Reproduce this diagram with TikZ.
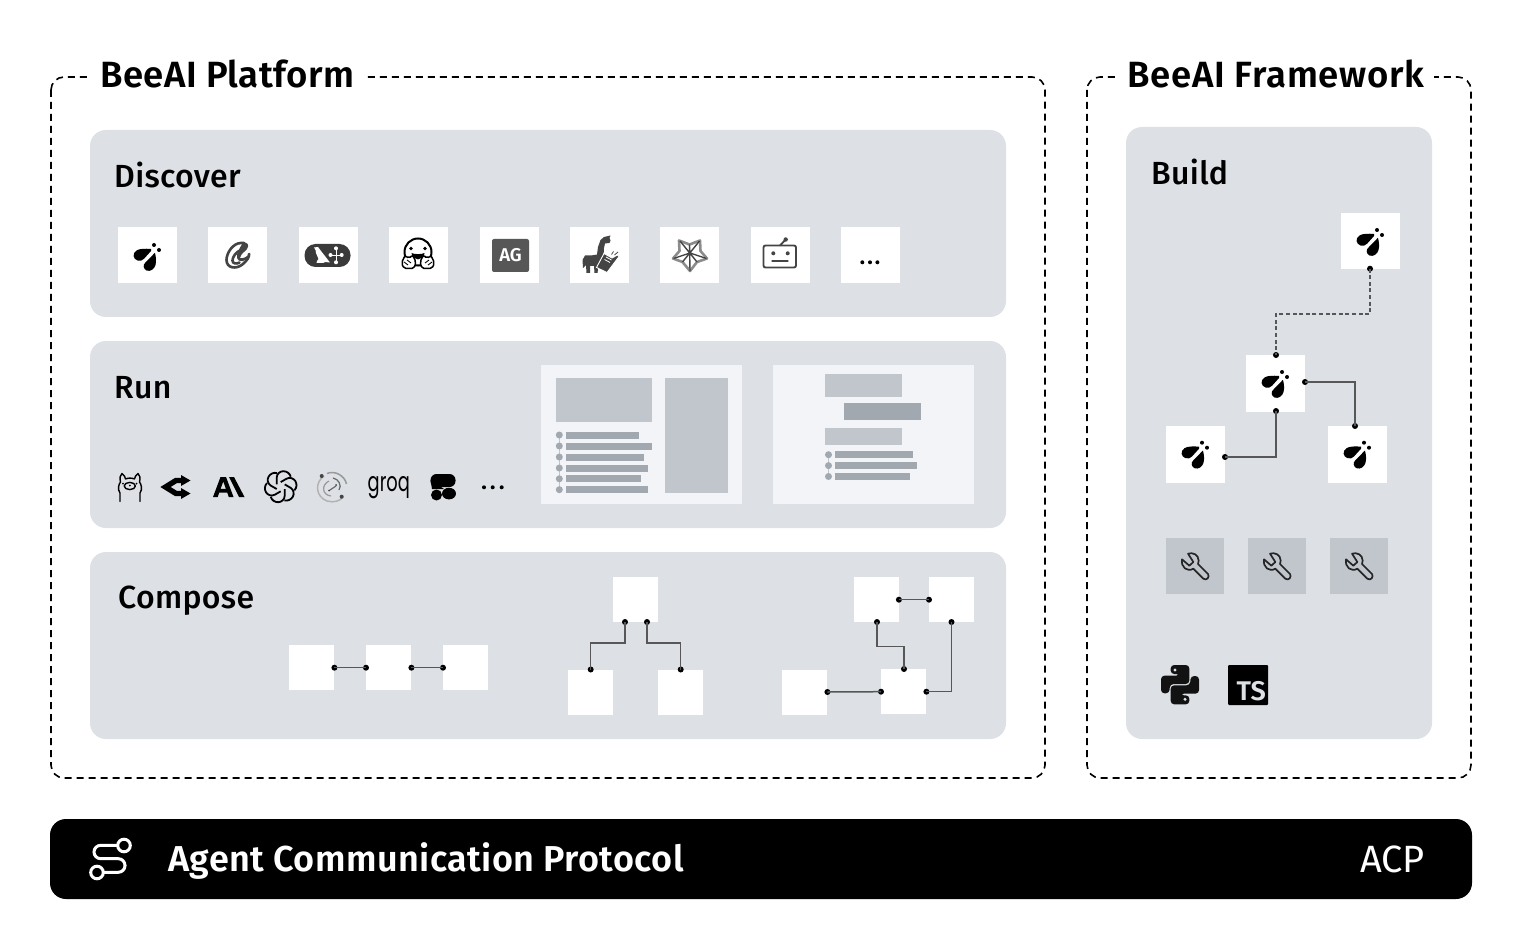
\documentclass[tikz,border=0pt]{standalone}
\usepackage{fontspec}
\setmainfont{Fira Sans}[UprightFont=* Medium,BoldFont=* SemiBold]
\newfontfamily\regf{Fira Sans}
\newfontfamily\logof{Poppins}
\definecolor{panel}{HTML}{DDE0E5}
\definecolor{mid}{HTML}{C1C6CD}
\definecolor{dark}{HTML}{A2A8AF}
\definecolor{pale}{HTML}{F2F4F8}
\definecolor{icon}{HTML}{444444}
\tikzset{
  frame/.style={draw=black,line width=1.6pt,dash pattern=on 7pt off 5pt,rounded corners=13pt},
  panelbox/.style={fill=panel,rounded corners=16pt},
  title/.style={font=\fontsize{36.5}{40}\selectfont\bfseries,anchor=base west,fill=white,inner xsep=10pt,inner ysep=2pt},
  label/.style={font=\fontsize{32}{36}\selectfont\addfontfeature{LetterSpace=1},anchor=base west,inner sep=0pt},
  tile/.style={fill=white,inner sep=0pt,minimum width=59pt,minimum height=56pt,anchor=north west},
  sq/.style={fill=white,inner sep=0pt,minimum width=45pt,minimum height=45pt,anchor=north west},
  tool/.style={fill=mid,inner sep=0pt,minimum width=58pt,minimum height=56pt,anchor=north west},
  dotn/.style={circle,fill=black,inner sep=0pt,minimum size=6pt},
  conn/.style={draw=icon!90,line width=1.5pt},
  dconn/.style={draw=icon!90,line width=1.5pt,dash pattern=on 4pt off 2.6pt},
}
\newcommand{\flyicon}[2]{\begin{scope}[shift={(#1,#2)}]
  \fill[black] (3.5,-7) .. controls (-2,-7.5) and (-8,-7.5) .. (-11,-5.5) .. controls (-15.5,-2.5) and (-14.5,3) .. (-10,4.5) .. controls (-7.5,5.3) and (-5,4.5) .. (-3.5,2.8) -- (3.5,-5) -- cycle;
  \fill[black] (7,-2.8) -- (-2.3,6.8) .. controls (-5,9) and (-4,13) .. (-1,14.5) .. controls (3,16) and (7,13) .. (8,9) .. controls (9,5) and (8.5,1) .. (7.5,-3) -- cycle;
  \fill[black] (6.5,-11) circle[radius=2] (11.5,-6) circle[radius=2];
\end{scope}}
\newcommand{\bulletrows}[3]{%
  \foreach \yy/\xe in {#3}{
    \fill[dark] (#1,\yy) circle[radius=3.5];
    \fill[dark] (#2,\yy-3.5) rectangle (\xe,\yy+3.5);
  }}
\begin{document}
\begin{tikzpicture}[x=1pt,y=-1pt]
\useasboundingbox (0,0) rectangle (1522,949);
\fill[white] (0,0) rectangle (1522,949);
% frames
\draw[frame] (51,77) rectangle (1045,778);
\draw[frame] (1087,77) rectangle (1471,778);
\node[title] (tp) at (90,87.5) {\addfontfeature{LetterSpace=1.2}BeeAI Platform};
\node[title,inner xsep=9pt] (tf) at (1118,87.5) {\addfontfeature{LetterSpace=2.2}BeeAI Framework};
% panels
\fill[panelbox] (90,130) rectangle (1006,317);
\fill[panelbox] (90,341) rectangle (1006,528);
\fill[panelbox] (90,552) rectangle (1006,739);
\fill[panelbox] (1126,127) rectangle (1432,739);
\node[label] (ld) at (114,187.5) {Discover};
\node[label] (lr) at (114,398) {Run};
\node[label] (lc) at (118,608) {Compose};
\node[label] (lb) at (1151,184.5) {Build};
% discover tiles
\foreach \i/\x in {1/118,2/208.2,3/298.6,4/389,5/479.4,6/570,7/660.2,8/750.6,9/841}
  \node[tile] (dt\i) at (\x,227) {};
\flyicon{147.5}{256}
% crew
\begin{scope}[draw=icon,line width=2.6pt,line cap=round]
\draw (241,243) .. controls (233,243) and (226.5,253) .. (226.5,260) .. controls (226.5,268) and (236,270) .. (243,264) .. controls (247,260.5) and (249.5,257) .. (249,254);
\fill[icon] (243,243) .. controls (247,241.5) and (250,245) .. (247,249) .. controls (245,252) and (241,253) .. (240,258) .. controls (243,259) and (247,257) .. (250,253) -- (250,256) .. controls (246,262) and (238,263) .. (237,258) .. controls (236,254) and (240,247) .. cycle;
\draw (240,250.5) .. controls (236,252) and (232.5,257) .. (232.5,260.5) .. controls (232.5,263.5) and (236,264.5) .. (239.5,262.5);
\draw (241,243) -- (244,242.8);
\end{scope}
% langgraph
\fill[icon!85!black,rounded corners=11pt] (304.5,244) rectangle (350.5,267);
\fill[white] (314,247.5) -- (318,247) -- (321,251) -- (330,262.5) -- (325,262) -- (323,263) -- (316.5,263) -- (317,261) -- (318.5,259) -- (316,253) -- (315.5,250) -- cycle;
\fill[white] (336,248.3) circle[radius=2] (330.5,255) circle[radius=2] (341.7,255) circle[radius=2] (336,262.3) circle[radius=2];
\draw[white,line width=.8pt] (336,248.3) -- (336,262.3) (332,255) -- (340,255);
% hugging face
\draw[black,line width=2pt,fill=white] (418,252) circle[radius=13.5];
\fill[black] (411,248.5) circle[radius=1.8] (425,248.5) circle[radius=1.8];
\fill[black] (411.5,253) .. controls (414,254.5) and (422,254.5) .. (424.5,253) .. controls (424,261.5) and (412,261.5) .. (411.5,253) -- cycle;
\draw[black,line width=1.5pt,fill=white,rounded corners=2pt] (401.5,263) -- (405,255.5) -- (409,258.5) -- (412.5,255) -- (416,262) -- (414,268.5) -- (404,268.5) -- cycle;
\draw[black,line width=1.5pt,fill=white,rounded corners=2pt] (434.5,263) -- (431,255.5) -- (427,258.5) -- (423.5,255) -- (420,262) -- (422,268.5) -- (432,268.5) -- cycle;
\draw[black,line width=.9pt] (404,262) -- (408,265) (407,260) -- (411,263) (432,262) -- (428,265) (429,260) -- (425,263);
% AG
\fill[icon!90!white,rounded corners=2pt] (492,239) rectangle (529,272);
\node[font=\fontsize{18.5}{20}\selectfont\bfseries,text=white,inner sep=0pt] (ag) at (510.5,255) {AG};
% llama + book
\fill[icon] (610.5,235.5) -- (609.5,238) -- (610.5,240.5) -- (609.5,243) -- (605,243.5) -- (604,248) -- (603.5,256) -- (602,262) -- (598.5,265) -- (597.5,273) -- (594.5,273) -- (594,266) -- (590,266) -- (590,273) -- (586.5,273) -- (586,265) -- (583,268) -- (582.5,260) -- (585,255.5) -- (591,255.5) -- (597,254.5) -- (598,247) -- (600.5,240) -- (604,237) -- cycle;
\fill[icon,draw=white,line width=.9pt] (604,253.5) -- (612,258) -- (617.5,255) -- (619,256.5) -- (607,272.5) -- (596.5,267.5) -- cycle;
\draw[white,line width=.8pt] (606,257) -- (611.5,260) (604.5,259.5) -- (610,262.5);
\draw[icon,line width=.8pt] (611.5,254.5) -- (613.5,251.5) (614.5,255) -- (618,252);
% star
\begin{scope}[line join=round]
\draw[gray!90,line width=2.6pt] (679,240.5) -- (689.5,244.5) -- (700,240.5) -- (700.5,251) -- (707,258.5) -- (697,262) -- (690,271) -- (682.5,262) -- (673,258.5) -- (679.5,251) -- cycle;
\draw[icon,line width=1.4pt] (680,241) -- (697,262) (699.5,241) -- (682.5,262) (673.5,258.5) -- (690,253) -- (706.5,258.5) (689.5,244.5) -- (690,271);
\end{scope}
% robot
\draw[icon,line width=1.9pt,rounded corners=2pt] (763.5,245.5) rectangle (796,267.5);
\fill[icon] (773.3,253.3) circle[radius=2] (787.7,253.3) circle[radius=2] (785.7,239.5) circle[radius=2.2];
\draw[icon,line width=1.9pt] (771.7,261) -- (788.3,261) (780,245.5) -- (785.7,239.5);
% dots
\fill[black] (862.3,262.3) circle[radius=2] (870,262.3) circle[radius=2] (877.4,262.3) circle[radius=2];
% windows
\node[fill=pale,inner sep=0pt,minimum width=200.7pt,minimum height=139pt,anchor=north west] (w1) at (541,365) {};
\node[fill=pale,inner sep=0pt,minimum width=201pt,minimum height=139pt,anchor=north west] (w2) at (773,365) {};
\fill[mid] (556,378) rectangle (652.3,421.5);
\fill[mid] (665,378) rectangle (727.5,493);
\draw[mid,line width=1pt] (559.3,435) -- (559.3,489.7);
\bulletrows{559.3}{566}{435/639.3,446/652.3,457/644.3,468/648.3,478.8/641.3,489.7/648.3}
\fill[mid] (825,374) rectangle (902.3,397);
\fill[dark] (844,403) rectangle (921.3,420);
\fill[mid] (825,427.5) rectangle (902.3,444.5);
\draw[mid,line width=1pt] (828.5,454.7) -- (828.5,476.5);
\bulletrows{828.5}{835}{454.7/913.3,465.6/917.3,476.5/910.3}
% ollama
\begin{scope}[draw=black,line width=1.4pt,line join=round,line cap=round]
\draw (120,501.5) -- (120,493) .. controls (117,489) and (119,484) .. (120.5,482) .. controls (119.5,478) and (120,475) .. (122,473.5) .. controls (124.5,475) and (125,477) .. (125.5,479) .. controls (128,477.8) and (132,477.8) .. (134.5,479) .. controls (135,477) and (135.5,475) .. (138,473.5) .. controls (140,475) and (140.5,478) .. (139.5,482) .. controls (141,484) and (143,489) .. (140,493) -- (140,501.5);
\draw (129.8,486) ellipse[x radius=5.6,y radius=3.6];
\fill[black] (123,483.5) circle[radius=1] (136.5,483.5) circle[radius=1] (129.8,485.5) circle[radius=1];
\end{scope}
% arrows logo
\draw[black,line width=5.4pt,line join=miter] (184,480.5) -- (176,480.5) -- (165.5,487) -- (176,493.5) -- (184,493.5);
\fill[black] (181,475) -- (190.5,480.5) -- (181,486) -- cycle;
\fill[black] (181,488) -- (190.5,493.5) -- (181,499) -- cycle;
% anthropic
\fill[black,even odd rule] (213,497) -- (220.5,477) -- (226,477) -- (233.5,497) -- (228.8,497) -- (227.3,492.7) -- (219.2,492.7) -- (217.7,497) -- cycle (220.6,488.8) -- (225.9,488.8) -- (223.25,481.5) -- cycle;
\fill[black] (229,477) -- (234,477) -- (244.5,497) -- (239,497) -- cycle;
% openai
\begin{scope}[shift={(280.7,486.7)}]
\foreach \a in {0,60,...,300}
  \draw[black,line width=1.8pt,rotate=\a] (-4,-2.3) -- (-4,-9) .. controls (-4,-13) and (-0.5,-15.5) .. (2.5,-15.5) .. controls (6,-15.5) and (9,-13.5) .. (10,-10);
\end{scope}
% swirl
\begin{scope}[shift={(332,487)}]
\draw[gray!80,line width=1.5pt] (-5,-13.5) .. controls (3,-17) and (13,-11) .. (14.5,-3);
\draw[gray!60,line width=1.5pt] (-8,-11) .. controls (-18,-4) and (-16,10) .. (-5,14) .. controls (2,16) and (8,14) .. (11,10);
\draw[gray!80,line width=1.2pt] (-3,-6) .. controls (-11,-2) and (-10,8) .. (-1,9);
\draw[icon!80,line width=1.2pt] (1,-9) .. controls (7,-8) and (10,-1) .. (7,3);
\draw[icon!80,line width=1.2pt] (-2,3) -- (4,-1);
\fill[icon] (-10.3,-11) circle[radius=2] (9.7,9.7) circle[radius=2] (-3,3.5) circle[radius=1] (4,-2) circle[radius=1];
\end{scope}
% groq
\node[font=\logof\fontsize{27}{30}\selectfont,text=black,inner sep=0pt,anchor=base west] (gq) at (367.5,491) {\scalebox{.66}[1]{groq}};
% blob
\fill[black,rounded corners=6pt] (430.5,474) rectangle (455.5,487);
\fill[black] (436.5,495) circle[radius=5.5];
\fill[black] (449,493.6) ellipse[x radius=7,y radius=5.8];
\fill[black] (430.5,480) -- (444,489) -- (432,489) -- cycle;
% dots
\fill[black] (484,487.3) circle[radius=2] (492.7,487.3) circle[radius=2] (501.7,487.3) circle[radius=2];
% compose: chain
\node[sq] (c1) at (289,645) {};
\node[sq] (c2) at (366,645) {};
\node[sq] (c3) at (443,645) {};
\node[dotn] (c1r) at (c1.east) {};
\node[dotn] (c2l) at (c2.west) {};
\node[dotn] (c2r) at (c2.east) {};
\node[dotn] (c3l) at (c3.west) {};
\draw[conn] (c1r.center) -- (c2l.center);
\draw[conn] (c2r.center) -- (c3l.center);
% compose: tree
\node[sq] (t1) at (613,577) {};
\node[sq] (t2) at (568,669.5) {};
\node[sq] (t3) at (658,669.5) {};
\node[dotn] (t1a) at (625,622) {};
\node[dotn] (t1b) at (647,622) {};
\node[dotn] (t2a) at (t2.north) {};
\node[dotn] (t3a) at (t3.north) {};
\draw[conn] (t1a.center) -- (625,643) -| (t2a.center);
\draw[conn] (t1b.center) -- (647,643) -| (t3a.center);
% compose: graph
\node[sq] (g1) at (853.5,577) {};
\node[sq] (g2) at (929,577) {};
\node[sq] (g3) at (782,669.3) {};
\node[sq] (g4) at (881,669) {};
\node[dotn] (g1r) at (g1.east) {};
\node[dotn] (g2l) at (g2.west) {};
\node[dotn] (g1b) at (877,622) {};
\node[dotn] (g2b) at (951.5,622) {};
\node[dotn] (g4t) at (904,669) {};
\node[dotn] (g3r) at (g3.east) {};
\node[dotn] (g4l) at (g4.west) {};
\node[dotn] (g4r) at (g4.east) {};
\draw[conn] (g1r.center) -- (g2l.center);
\draw[conn] (g1b.center) -- (877,646.5) -- (904,646.5) -- (g4t.center);
\draw[conn] (g3r.center) -- (g4l.center);
\draw[conn] (g4r.center) -| (g2b.center);
% build
\node[tile] (b1) at (1341,213) {};
\node[tile,minimum height=56.7pt] (b2) at (1246,355) {};
\node[tile,minimum height=56.7pt] (b3) at (1166,426) {};
\node[tile,minimum height=56.7pt] (b4) at (1328,426) {};
\flyicon{1370.5}{241}
\flyicon{1275.5}{383}
\flyicon{1195.5}{453.7}
\flyicon{1357.5}{453.7}
\node[dotn] (b1s) at (1370,268.7) {};
\node[dotn] (b2n) at (1276,355) {};
\node[dotn] (b2e) at (1305,382) {};
\node[dotn] (b2s) at (1276,411) {};
\node[dotn] (b3e) at (1225,457) {};
\node[dotn] (b4n) at (1355,426) {};
\draw[dconn] (b1s.center) -- (1370,314) -- (1276,314) -- (b2n.center);
\draw[conn] (b2e.center) -| (b4n.center);
\draw[conn] (b2s.center) |- (b3e.center);
% tools
\foreach \i/\x in {1/1166,2/1248,3/1330}
  \node[tool] (tl\i) at (\x,538) {};
\foreach \dx in {0,82,164}{
\begin{scope}[shift={(1150+\dx,530)},scale=1/3]
  \draw[black!85,line width=1.7pt,line join=round] (114,71) .. controls (128,66) and (146,74) .. (146,92) .. controls (146,96) and (145,99) .. (144,102) -- (174,132) .. controls (180,140) and (170,154) .. (160,146) -- (130,116) .. controls (112,127) and (92,112) .. (96,88) -- (118,107) -- (130,96) -- cycle;
\end{scope}}
% python
\begin{scope}[shift={(1150,530)},scale=1/3]
\fill[black!93,rounded corners=3.5pt] (62,432) -- (62,405) -- (118,405) -- (118,462) -- (60,462) -- (58,490) -- (33,490) -- (33,437) -- (89,437) -- (89,432) -- cycle;
\fill[black!93,rounded corners=3.5pt] (118,496) -- (118,523) -- (62,523) -- (62,466) -- (120,466) -- (122,438) -- (147,438) -- (147,491) -- (91,491) -- (91,496) -- cycle;
\fill[panel] (75,420) circle[radius=5] (105,508) circle[radius=5];
\end{scope}
% TS
\fill[black,rounded corners=1pt] (1228,665) rectangle (1268,705);
\node[font=\fontsize{27}{28}\selectfont\bfseries,text=panel,inner sep=0pt,anchor=base east] (ts) at (1266,700.5) {TS};
% bar
\fill[black,rounded corners=16pt] (50,819) rectangle (1472,899);
\draw[white,line width=3pt,rounded corners=6.7pt] (118,845.3) -- (94,845.3) -- (94,858.7) -- (125,858.7) -- (125,872.3) -- (103,872.3);
\draw[white,line width=3pt] (124,845.5) circle[radius=6.3] (97,872.5) circle[radius=6.3];
\node[label,text=white,font=\fontsize{36}{40}\selectfont\bfseries\addfontfeature{LetterSpace=1.2}] (acp) at (168,871) {Agent Communication Protocol};
\node[label,text=white,font=\regf\fontsize{38}{40}\selectfont] (acpr) at (1360,872) {ACP};
\end{tikzpicture}
\end{document}
